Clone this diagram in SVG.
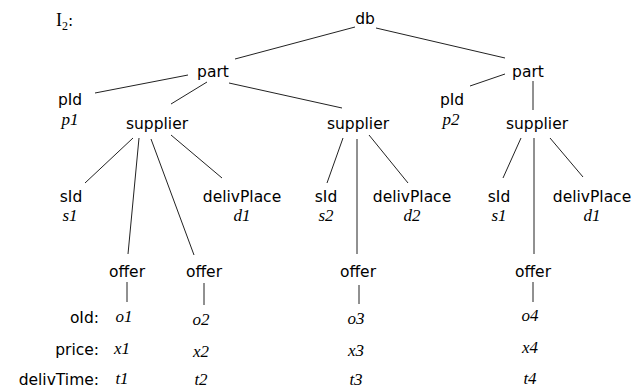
<svg xmlns="http://www.w3.org/2000/svg" width="642" height="389" viewBox="0 0 642 389">
<style>
.n{font-family:"DejaVu Sans","Liberation Sans",sans-serif;font-size:15.5px;fill:#000;text-anchor:middle}
.v{font-family:"Liberation Serif","Times New Roman",serif;font-size:17px;font-style:italic;fill:#000;text-anchor:middle}
.l{font-family:"DejaVu Sans","Liberation Sans",sans-serif;font-size:15.5px;fill:#000;text-anchor:end}
.t{font-family:"Liberation Serif","Times New Roman",serif;font-size:18px;fill:#000}
#edges line{stroke:#222;stroke-width:1}
</style>
<rect width="642" height="389" fill="#fff"/>
<text class="t" x="56" y="26">I<tspan font-size="12" dy="4">2</tspan><tspan dy="-4" font-family="DejaVu Sans, sans-serif" font-size="15.5">:</tspan></text>
<g id="edges">
<line x1="235" y1="59" x2="355" y2="27"/>
<line x1="376" y1="28" x2="505" y2="58"/>
<line x1="95" y1="93" x2="188" y2="75"/>
<line x1="171" y1="104" x2="207" y2="82"/>
<line x1="229" y1="83" x2="342" y2="108"/>
<line x1="470" y1="86" x2="505" y2="74"/>
<line x1="533" y1="81" x2="533" y2="110"/>
<line x1="133" y1="138" x2="85" y2="183"/>
<line x1="139" y1="138" x2="128" y2="254"/>
<line x1="151" y1="139" x2="194" y2="255"/>
<line x1="171" y1="135" x2="222" y2="178"/>
<line x1="343" y1="138" x2="327" y2="183"/>
<line x1="357" y1="139" x2="357" y2="254"/>
<line x1="369" y1="135" x2="408" y2="183"/>
<line x1="521" y1="138" x2="503" y2="178"/>
<line x1="534" y1="138" x2="534" y2="254"/>
<line x1="550" y1="138" x2="583" y2="177"/>
<line x1="127" y1="282" x2="127" y2="302"/>
<line x1="204" y1="283" x2="204" y2="305"/>
<line x1="359" y1="285" x2="359" y2="304"/>
<line x1="533" y1="282" x2="533" y2="302"/>
</g>
<g id="db"><text class="n" x="365" y="24">db</text></g>
<g id="part1"><text class="n" x="213" y="77">part</text></g>
<g id="part2"><text class="n" x="528" y="77">part</text></g>
<g id="pId1"><text class="n" x="70" y="105">pId</text><text class="v" x="70" y="125">p1</text></g>
<g id="pId2"><text class="n" x="452" y="105">pId</text><text class="v" x="451" y="125">p2</text></g>
<g id="supplier1"><text class="n" x="157" y="129">supplier</text></g>
<g id="supplier2"><text class="n" x="358" y="129">supplier</text></g>
<g id="supplier3"><text class="n" x="537" y="129">supplier</text></g>
<g id="sId1"><text class="n" x="71" y="202">sId</text><text class="v" x="70" y="221">s1</text></g>
<g id="delivPlace1"><text class="n" x="242" y="202">delivPlace</text><text class="v" x="242" y="221">d1</text></g>
<g id="sId2"><text class="n" x="326" y="202">sId</text><text class="v" x="326" y="221">s2</text></g>
<g id="delivPlace2"><text class="n" x="412" y="202">delivPlace</text><text class="v" x="412" y="221">d2</text></g>
<g id="sId3"><text class="n" x="499" y="202">sId</text><text class="v" x="499" y="221">s1</text></g>
<g id="delivPlace3"><text class="n" x="592" y="202">delivPlace</text><text class="v" x="592" y="221">d1</text></g>
<g id="labels"><text class="l" x="99" y="323">oId:</text><text class="l" x="99" y="355">price:</text><text class="l" x="99" y="385">delivTime:</text></g>
<g id="offer1"><text class="n" x="127" y="277">offer</text><text class="v" x="124" y="322">o1</text><text class="v" x="122" y="354">x1</text><text class="v" x="122" y="384">t1</text></g>
<g id="offer2"><text class="n" x="204" y="277">offer</text><text class="v" x="201" y="325">o2</text><text class="v" x="201" y="357">x2</text><text class="v" x="201" y="385">t2</text></g>
<g id="offer3"><text class="n" x="358" y="277">offer</text><text class="v" x="356" y="324">o3</text><text class="v" x="356" y="356">x3</text><text class="v" x="356" y="385">t3</text></g>
<g id="offer4"><text class="n" x="533" y="277">offer</text><text class="v" x="530" y="321">o4</text><text class="v" x="530" y="353">x4</text><text class="v" x="530" y="384">t4</text></g>
</svg>
